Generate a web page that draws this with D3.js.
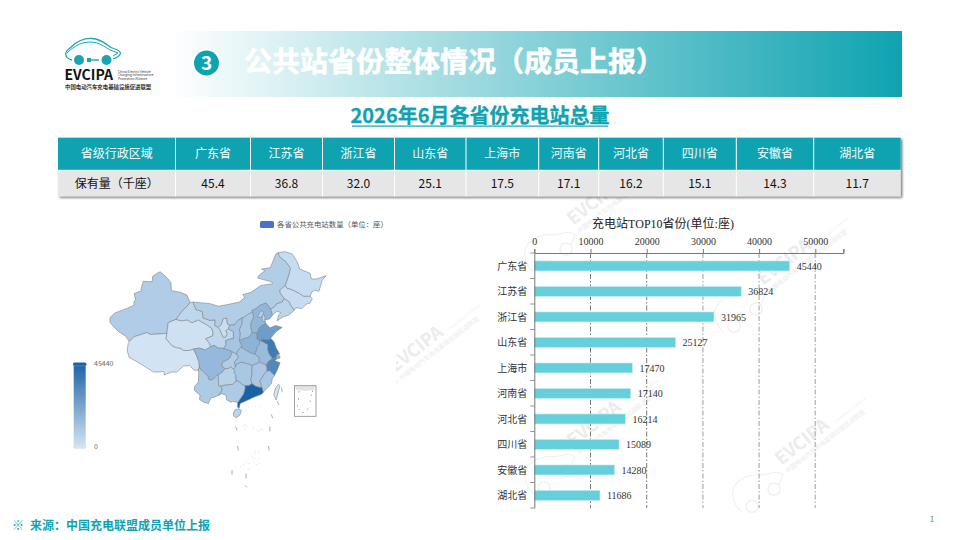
<!DOCTYPE html>
<html>
<head>
<meta charset="utf-8">
<script src="https://cdn.jsdelivr.net/npm/d3@7"></script>
<style>
  html, body { margin: 0; padding: 0; background: #fff; }
  svg { display: block; }
  text { font-family: "Noto Sans CJK SC", "Noto Sans", sans-serif; }
  .serif text, text.serif { font-family: "Liberation Serif", "Noto Sans CJK SC", serif; }
</style>
</head>
<body>
<div id="chart"></div>
<script>
// table at the top, in thousands of stations
const tableNames = ["广东省", "江苏省", "浙江省", "山东省", "上海市", "河南省", "河北省", "四川省", "安徽省", "湖北省"];
const tableValues = ["45.4", "36.8", "32.0", "25.1", "17.5", "17.1", "16.2", "15.1", "14.3", "11.7"];

// bar chart
const topNames = ["广东省", "江苏省", "浙江省", "山东省", "上海市", "河南省", "河北省", "四川省", "安徽省", "湖北省"];
const topValues = [45440, 36824, 31965, 25127, 17470, 17140, 16214, 15089, 14280, 11686];
const axisTicks = [0, 10000, 20000, 30000, 40000, 50000];

// map: names, values (top 10, the others estimated from the shade)
const mapNames = ["新疆", "西藏", "青海", "甘肃", "宁夏", "内蒙古", "黑龙江", "吉林", "辽宁", "河北", "北京", "天津", "山西", "陕西", "山东", "河南", "江苏", "上海", "安徽", "浙江", "湖北", "四川", "重庆", "云南", "贵州", "湖南", "江西", "福建", "广东", "广西", "海南", "台湾"];
const mapValues = [8500, 300, 1500, 5000, 2500, 8000, 3000, 3000, 5500, 16214, 8000, 5000, 10000, 11000, 25127, 17140, 36824, 17470, 14280, 31965, 11686, 15089, 8500, 9000, 7000, 10500, 10000, 10500, 45440, 9000, 6000, 500];

// province outlines, [lon, lat]
const mapShapes = [
  [[73.5,39.5],[75,40.5],[76.8,41],[78.5,41.5],[80.3,42.1],[80.4,43],[80.8,43.2],[80.4,44.6],[82.5,45.2],[82.3,45.5],[83,47.2],[85.5,47.1],[85.7,48.3],[87.3,49.1],[87.9,49.2],[89.7,48],[90.9,46.9],[91,45.2],[93.5,44.9],[95.4,44.3],[96.4,42.7],[93.8,40.6],[92.3,39.1],[90.1,38.4],[89.7,36.1],[85,35.9],[84,36.3],[80.3,35.4],[79,34.4],[78,35.5],[76,36.5],[74.8,37.3],[73.5,38.5]],
  [[78.7,34],[79,34.4],[80.3,35.4],[84,36.3],[85,35.9],[89.7,36.1],[89.5,35],[91.2,33.5],[92.5,33.1],[93.5,33],[94.5,32.5],[96,32.5],[97.3,32.8],[98.2,31.4],[98.9,30],[99,29],[98.7,28.3],[97.5,28.3],[96.2,29.3],[94.5,29.2],[92.5,27.9],[91,27.9],[89,27.3],[88.9,28],[86,27.9],[84,28.8],[81.2,30.1],[79,31],[78.4,32.5]],
  [[92.3,39.1],[90.1,38.4],[89.7,36.1],[89.5,35],[91.2,33.5],[92.5,33.1],[93.5,33],[94.5,32.5],[96,32.5],[97.3,32.8],[99,33],[100.7,32.6],[102.2,33.3],[101.8,34.1],[100.8,35],[102.8,35.6],[102.9,36.3],[102.5,37.2],[101,38],[100,38.4],[98.7,39],[96.9,38.4],[95.5,39],[94,38.8]],
  [[96.4,42.7],[97.2,42.8],[98,41.2],[99.8,40.8],[100.1,39.4],[102,38.9],[103.5,39],[103.4,37.8],[104.3,37.4],[104.9,36.9],[105.4,35.9],[105.9,35.2],[106.5,35.4],[106.9,36.1],[106.5,36.7],[107.3,37.1],[108.7,36.5],[108.7,35],[107.7,34.9],[106.5,34.6],[106.6,33.7],[105.8,32.9],[105,33],[104.3,33],[103.2,33.6],[102.2,33.3],[101.8,34.1],[100.8,35],[102.8,35.6],[102.9,36.3],[102.5,37.2],[101,38],[100,38.4],[98.7,39],[96.9,38.4],[95.5,39],[94,38.8],[92.3,39.1],[93.8,40.6]],
  [[104.3,37.4],[105.2,38],[105.8,39.3],[106.8,39.4],[107,38.1],[107.6,37.9],[107.3,37.1],[106.5,36.7],[106.9,36.1],[106.5,35.4],[105.9,35.2],[105.4,35.9],[104.9,36.9]],
  [[97.2,42.8],[100,42.6],[101.8,42.5],[104.5,41.9],[107.3,42.3],[110.4,42.8],[111.9,43.7],[111.4,44.4],[113.6,44.8],[116.5,46.3],[119.9,46.7],[119.5,47.1],[115.6,47.9],[116,48.5],[117.8,49.5],[116.7,49.8],[119.2,50.1],[120.1,51.7],[120.8,53],[121.5,53.3],[121.8,52.5],[123.6,51.4],[125,50],[124.5,48.5],[123.5,46.3],[122,45.4],[122,44.8],[123.2,43.5],[122.6,42.8],[121,42.4],[120.3,41.7],[119.3,41.3],[118,42.6],[116,42],[115.4,41.5],[114,41],[114.1,40.7],[113.8,40.5],[112.8,40.2],[111.9,39.6],[111.1,39.4],[110,38.9],[108.9,37.9],[107.6,37.9],[107,38.1],[106.8,39.4],[105.8,39.3],[105.2,38],[104.3,37.4],[103.4,37.8],[103.5,39],[102,38.9],[100.1,39.4],[99.8,40.8],[98,41.2]],
  [[121.5,53.3],[123.5,53.5],[125.5,53],[126.9,51.3],[127.6,49.8],[130.6,48.9],[130.9,47.7],[132.5,47.7],[135.1,48.4],[134,47.4],[133.1,45.1],[131.9,45.3],[131,44.9],[130.6,44],[128.7,44],[127.5,44.6],[126,45.2],[125,45.5],[124,45.7],[123.5,46.3],[124.5,48.5],[125,50],[123.6,51.4],[121.8,52.5]],
  [[123.5,46.3],[124,45.7],[125,45.5],[126,45.2],[127.5,44.6],[128.7,44],[130.6,44],[131.2,43.5],[130.5,42.5],[129.8,42.5],[128.1,41.4],[126.5,41.6],[126,41],[125,42.2],[124.5,42.9],[123.2,43.5],[122,44.8],[122,45.4]],
  [[119.3,41.3],[120.3,41.7],[121,42.4],[122.6,42.8],[123.2,43.5],[124.5,42.9],[125,42.2],[126,41],[124.4,40],[123,39.7],[121.2,38.8],[121.5,39.8],[122.2,40.6],[121,40.8],[119.8,40]],
  [[119.8,40],[119.3,41.3],[118,42.6],[116,42],[115.4,41.5],[114,41],[114.1,40.7],[114.5,39.6],[113.7,38.5],[113.6,37.5],[114,36.3],[115.2,36.2],[115.5,36.2],[116.2,37.4],[117.5,38.1],[117.8,38.4],[117.6,39],[119,39.2]],
  [[115.5,39.7],[116,40.3],[116.5,41],[117.4,40.6],[117,39.9],[116.5,39.5],[115.9,39.6]],
  [[117,39.9],[117.4,40.2],[117.8,39.4],[117.6,39],[117.8,38.6],[117,38.7],[116.9,39.3]],
  [[111.1,39.4],[111.9,39.6],[112.8,40.2],[113.8,40.5],[114.1,40.7],[114.5,39.6],[113.7,38.5],[113.6,37.5],[114,36.3],[113.5,35.6],[112.8,35.2],[112,35.1],[110.4,34.6],[110.6,36],[110.4,37],[111.1,38.2]],
  [[111.1,39.4],[110,38.9],[108.9,37.9],[107.6,37.9],[107.3,37.1],[108.7,36.5],[108.7,35],[107.7,34.9],[106.5,34.6],[106.6,33.7],[105.8,32.9],[107.2,32.6],[108.4,32.2],[109.6,31.7],[110,32.5],[110.9,33.2],[111,33.7],[110.4,34.6],[110.6,36],[110.4,37],[111.1,38.2]],
  [[115.5,36.2],[116.2,37.4],[117.5,38.1],[117.8,38.4],[118.9,37.5],[119,37.3],[120.8,37.8],[122.6,37.4],[121,36.6],[120.3,36],[119.3,35.1],[118.7,34.7],[117,34.9],[116.2,34.6],[115.4,34.9],[115.3,35.8]],
  [[110.4,34.6],[112,35.1],[112.8,35.2],[113.5,35.6],[114,36.3],[115.2,36.2],[115.5,36.2],[115.3,35.8],[115.4,34.9],[116.2,34.6],[116.1,33.8],[115.3,33.1],[115.3,32.6],[114.8,31.7],[113.5,32],[111.9,32.7],[110.9,33.2],[111,33.7]],
  [[116.2,34.6],[117,34.9],[118.7,34.7],[119.3,35.1],[120.3,34.3],[120.9,33],[121.9,31.7],[121.2,31.7],[120.9,31.1],[121,30.7],[120.4,30.9],[119.6,30.6],[119.6,31.1],[119.2,31.3],[118.9,31.7],[118.4,32.7],[118.5,33.7],[117.1,34.3]],
  [[121,30.7],[120.9,31.1],[121.2,31.7],[121.9,31.3],[122,30.9]],
  [[114.8,31.7],[115.3,32.6],[115.3,33.1],[116.1,33.8],[116.2,34.6],[117.1,34.3],[118.5,33.7],[118.4,32.7],[118.9,31.7],[119.2,31.3],[119.6,31.1],[119.6,30.6],[118.9,30.3],[118,29.4],[117,29.7],[116.1,30],[116,31]],
  [[118.2,28.1],[118.2,28.7],[118,29.4],[118.9,30.3],[119.6,30.6],[120.4,30.9],[121,30.7],[120.5,30.3],[122,29.9],[121.5,28.9],[121,28],[120.4,27.2],[119.7,27.7],[118.9,28.2]],
  [[110.1,31],[109.6,31.7],[110,32.5],[110.9,33.2],[111.9,32.7],[113.5,32],[114.8,31.7],[116,31],[116.1,30],[115.4,29.7],[114,29.3],[113.1,29.6],[112.5,29.7],[111,30],[109.6,29.6],[109.3,29],[108.9,30]],
  [[97.3,32.8],[99,33],[100.7,32.6],[102.2,33.3],[103.2,33.6],[104.3,33],[105,33],[105.8,32.9],[107.2,32.6],[108.4,32.2],[107.7,30.9],[106.5,30.3],[105.6,30],[105.4,29.3],[106.3,28.6],[105.3,27.7],[104.4,27.4],[103.7,27],[102.9,26.3],[101.8,26.2],[101.4,27],[100.4,27.8],[100.1,28],[99.4,28.4],[99,29],[98.9,30],[98.2,31.4]],
  [[108.4,32.2],[107.7,30.9],[106.5,30.3],[105.6,30],[105.4,29.3],[106.3,28.6],[107.5,28.7],[107.9,29],[108.7,28.5],[109.3,29],[108.9,30],[110.1,31],[109.6,31.7]],
  [[98.7,28.3],[99,29],[99.4,28.4],[100.1,28],[100.4,27.8],[101.4,27],[101.8,26.2],[102.9,26.3],[103.7,27],[104.4,27.4],[104.4,26.3],[104.5,25],[105.2,24.9],[105.5,24.1],[104.6,23],[103,22.5],[102.2,22.4],[101.6,21.2],[100.2,21.5],[99,22.1],[99.2,23],[97.6,24],[97.6,24.8],[98.7,25.8],[98.8,27.5]],
  [[106.3,28.6],[105.3,27.7],[104.4,27.4],[104.4,26.3],[104.5,25],[105.2,24.9],[106.2,25.1],[107.5,25.2],[108.6,25.3],[109.5,26],[109.4,27.2],[108.9,27.8],[109.2,28.1],[108.7,28.5],[107.9,29],[107.5,28.7]],
  [[109.3,29],[109.6,29.6],[111,30],[112.5,29.7],[113.1,29.6],[114,29.3],[114,27.5],[113.7,26.3],[114,25.4],[113,25],[112,25],[111.3,25.2],[110,26],[109.5,26],[109.4,27.2],[108.9,27.8],[109.2,28.1],[108.7,28.5]],
  [[114,29.3],[115.4,29.7],[116.1,30],[117,29.7],[118,29.4],[118.2,28.7],[118.2,28.1],[117.5,27.5],[117,26.9],[116.2,26],[116.5,25.5],[116.8,24.6],[115.9,24.7],[115,24.9],[114,25.4],[113.7,26.3],[114,27.5]],
  [[116.8,24.6],[116.5,25.5],[116.2,26],[117,26.9],[117.5,27.5],[118.2,28.1],[118.9,28.2],[119.7,27.7],[120.4,27.2],[119.7,26.4],[119.6,25.5],[118.9,24.9],[118.2,24.4],[117.2,23.6]],
  [[112,25],[113,25],[114,25.4],[115,24.9],[115.9,24.7],[116.8,24.6],[117.2,23.6],[116.7,23.2],[115,22.7],[114,22.4],[113.5,22.2],[112,21.7],[110.6,21.2],[110.4,20.3],[109.9,20.4],[109.9,21.4],[110.7,22.3],[111.6,23.3],[112,24.4]],
  [[105.2,24.9],[106.2,25.1],[107.5,25.2],[108.6,25.3],[109.5,26],[110,26],[111.3,25.2],[112,25],[112,24.4],[111.6,23.3],[110.7,22.3],[109.9,21.4],[109.6,21.5],[108.5,21.7],[108,21.5],[106.7,22],[106.6,23],[105.3,23.3],[104.6,23],[105.5,24.1]],
  [[108.7,19.2],[109.2,19.9],[110.3,20.1],[111,19.7],[110.5,18.7],[109.5,18.2],[108.7,18.6]],
  [[121.5,25.3],[122,25],[121.6,24],[120.9,22],[120.2,23],[120.7,24.5]]
];

// nine dash line, [lon, lat, lon, lat]
const dashLine = [[122.6,23.6,122.4,24.6],[121.7,20.9,121.1,21.7],[119.9,18.1,119.5,18.9],[119.1,15.3,119.1,16.3],[118.9,11.2,118.7,12.2],[112.5,3.4,112.0,3.8],[112.3,5.3,112.3,6.3],[108.3,6.1,108.3,7.1],[110.1,11.2,109.9,12.2],[109.3,16.3,109.8,15.5]];
// small islands, [lon, lat]
const islands = [[111.5,16.5],[112,16.8],[112.5,16.4],[111.9,15.8],[114.5,16],[115.5,15.5],[116,15.3],[116.4,15.8],[117,15.6],[113,20.5],[115,20.6],[116.5,20.7],[114,10],[114.5,9.5],[115,10.5],[115.5,9],[116,9.5],[114.3,8.6],[115.2,8.2],[116.2,8.4],[113.2,8.5],[112.5,8.6],[114.8,11],[115.8,10.8],[111.5,8.2],[110.8,7.8],[113.6,7.5],[112.9,7.2]];

const wmCenters = [[798,445],[590,427],[780,265],[590,205],[412,352]];

const width = 960, height = 540;
const teal = "#0fa3b1";

const svg = d3.select("#chart").append("svg")
  .attr("width", width)
  .attr("height", height);

const defs = svg.append("defs");
const banner = defs.append("linearGradient").attr("id", "banner");
banner.append("stop").attr("offset", "0").attr("stop-color", "#fff");
banner.append("stop").attr("offset", "1").attr("stop-color", teal);
const shadow = defs.append("filter").attr("id", "shadow")
  .attr("x", "-2%").attr("y", "-10%").attr("width", "104%").attr("height", "125%");
shadow.append("feDropShadow").attr("dx", 1.5).attr("dy", 1.5).attr("stdDeviation", 1.2)
  .attr("flood-color", "#000").attr("flood-opacity", 0.55);

const mapColor = d3.scaleLinear()
  .domain([0, d3.max(topValues)])
  .range(["#d3e5f5", "#1a62a6"]);

const vm = defs.append("linearGradient").attr("id", "vm")
  .attr("x1", 0).attr("x2", 0).attr("y1", 1).attr("y2", 0);
vm.append("stop").attr("offset", "0").attr("stop-color", mapColor(0));
vm.append("stop").attr("offset", "1").attr("stop-color", mapColor(45440));

// watermarks, behind everything
const drawMark = (g) => {
  g.append("path")
    .attr("d", "M-48,18 C-50,2 -42,-8 -30,-8 C-20,-8 -14,-4 -8,2 L4,8 L8,14 L-2,20")
    .attr("fill", "none").attr("stroke", "#f1f1f1").attr("stroke-width", 1.2);
  g.append("circle").attr("cx", -36).attr("cy", 20).attr("r", 6).attr("fill", "none").attr("stroke", "#f1f1f1").attr("stroke-width", 1.5);
  g.append("circle").attr("cx", -8).attr("cy", 20).attr("r", 6).attr("fill", "none").attr("stroke", "#f1f1f1").attr("stroke-width", 1.5);
  g.append("text").attr("x", 12).attr("y", 6).attr("font-size", 18).attr("font-weight", 700)
    .attr("fill", "#ececec").text("EVCIPA");
  g.append("text").attr("x", 12).attr("y", 16).attr("font-size", 6.2).attr("font-weight", 700)
    .attr("fill", "#f1f1f1").text("中国电动汽车充电基础设施促进联盟");
  g.append("text").attr("x", 80).attr("y", 6).attr("font-size", 4)
    .attr("fill", "#f1f1f1").text("China Electric Vehicle");
};
svg.append("g").selectAll("g")
  .data(wmCenters)
  .join("g")
  .attr("transform", d => `translate(${d[0]},${d[1]}) rotate(-38) translate(-38,0)`)
  .each(function() { drawMark(d3.select(this)); });
// map panel has a white background
svg.append("rect").attr("x", 60).attr("y", 205).attr("width", 336).attr("height", 300).attr("fill", "#fff");

// banner
svg.append("rect").attr("x", 170).attr("y", 31).attr("width", 732).attr("height", 66).attr("fill", "url(#banner)");
svg.append("circle").attr("cx", 206.5).attr("cy", 63).attr("r", 14.5).attr("fill", "#fff");
svg.append("circle").attr("cx", 206.5).attr("cy", 63).attr("r", 12.5).attr("fill", teal);
svg.append("text").attr("x", 206.5).attr("y", 70).attr("text-anchor", "middle")
  .attr("font-size", 19).attr("font-weight", 700).attr("fill", "#fff").text("3");
svg.append("text").attr("x", 244).attr("y", 72)
  .attr("font-size", 28).attr("font-weight", 700).attr("fill", "#fff")
  .attr("stroke", "#fff").attr("stroke-width", 0.5)
  .text("公共站省份整体情况（成员上报）");

// logo
const logo = svg.append("g").attr("fill", "none").attr("stroke", "#1aa5b5");
logo.append("path").attr("stroke-width", 1.3)
  .attr("d", "M72,60 C64,58 64,52 70,48 C76,42 82,38 92,38.5 C101,39 106,44 111,47.5 C116,49 120,51 120.5,53 C120,56 116,58 113,59");
logo.append("path").attr("stroke-width", 1)
  .attr("d", "M67,53 C72,48 80,42 90,42 C99,42 105,47 110,50 L118,53 L113,56");
logo.append("circle").attr("cx", 79).attr("cy", 60).attr("r", 5).attr("fill", "#1aa5b5").attr("stroke", "none");
logo.append("circle").attr("cx", 106.5).attr("cy", 60).attr("r", 5).attr("fill", "#1aa5b5").attr("stroke", "none");
logo.append("path").attr("stroke", "#1aa5b5").attr("stroke-width", 1.4).attr("d", "M88,60 H99");
logo.append("rect").attr("x", 87).attr("y", 58).attr("width", 4).attr("height", 4).attr("fill", "#1aa5b5").attr("stroke", "none");
svg.append("text").attr("x", 64.5).attr("y", 79.5).attr("font-size", 14).attr("font-weight", 700).attr("fill", "#111").text("EVCIPA");
["China Electric Vehicle", "Charging Infrastructure", "Promotion Alliance"].forEach((t, i) => {
  svg.append("text").attr("x", 118).attr("y", 72.5 + i * 3.6).attr("font-size", 3.3).attr("fill", "#333").text(t);
});
svg.append("text").attr("x", 65).attr("y", 88.5).attr("font-size", 5.4).attr("font-weight", 700).attr("fill", "#333")
  .text("中国电动汽车充电基础设施促进联盟");

// subtitle
svg.append("text").attr("x", 480).attr("y", 122.5).attr("text-anchor", "middle")
  .attr("font-size", 20).attr("font-weight", 700).attr("fill", teal)
  .attr("stroke", teal).attr("stroke-width", 0.3)
  .text("2026年6月各省份充电站总量");
svg.append("rect").attr("x", 352).attr("y", 125.5).attr("width", 256).attr("height", 1.2).attr("fill", teal);

// table
const colEdges = [58, 175.5, 250.5, 322.5, 394.5, 466, 538.7, 598.7, 663.3, 736.3, 813.7, 900.7];
const rowEdges = [137.7, 170.3, 196.3];
const table = svg.append("g");
table.append("rect").attr("x", colEdges[0]).attr("y", rowEdges[0])
  .attr("width", colEdges[11] - colEdges[0]).attr("height", rowEdges[2] - rowEdges[0])
  .attr("fill", "#e6e6e6").attr("filter", "url(#shadow)");
const headRow = ["省级行政区域"].concat(tableNames);
const valueRow = ["保有量（千座）"].concat(tableValues);
headRow.forEach((t, i) => {
  table.append("rect").attr("x", colEdges[i]).attr("y", rowEdges[0])
    .attr("width", colEdges[i + 1] - colEdges[i]).attr("height", rowEdges[1] - rowEdges[0])
    .attr("fill", teal);
  table.append("text").attr("x", (colEdges[i] + colEdges[i + 1]) / 2).attr("y", 158)
    .attr("text-anchor", "middle").attr("font-size", 12).attr("fill", "#f2fbfc").text(t);
  table.append("text").attr("x", (colEdges[i] + colEdges[i + 1]) / 2).attr("y", 188)
    .attr("text-anchor", "middle").attr("font-size", 12).attr("fill", "#111").text(valueRow[i]);
});
colEdges.slice(1, -1).forEach(x => {
  table.append("line").attr("x1", x).attr("x2", x).attr("y1", rowEdges[0]).attr("y2", rowEdges[2])
    .attr("stroke", "#fff").attr("stroke-width", 1);
});
table.append("line").attr("x1", colEdges[0]).attr("x2", colEdges[11]).attr("y1", rowEdges[1]).attr("y2", rowEdges[1])
  .attr("stroke", "#fff").attr("stroke-width", 1);

// map: latitude keeps its own scale, echarts squeezes longitude by 0.75
const lonScale = d3.scaleLinear().domain([73.5, 135.1]).range([110, 326]);
const latScale = d3.scaleLinear().domain([53.5, 18.2]).range([251.7, 417.7]);
const shapeLine = d3.line().x(d => lonScale(d[0])).y(d => latScale(d[1])).curve(d3.curveLinearClosed);

const map = svg.append("g");
map.selectAll("path.province")
  .data(mapNames)
  .join("path")
  .attr("class", "province")
  .attr("d", (d, i) => shapeLine(mapShapes[i]))
  .attr("fill", (d, i) => mapColor(mapValues[i]))
  .attr("stroke", "#80858a")
  .attr("stroke-width", 0.6)
  .attr("stroke-linejoin", "round");
map.selectAll("line.dash")
  .data(dashLine)
  .join("line")
  .attr("class", "dash")
  .attr("x1", d => lonScale(d[0])).attr("y1", d => latScale(d[1]))
  .attr("x2", d => lonScale(d[2])).attr("y2", d => latScale(d[3]))
  .attr("stroke", "#8a8a8a").attr("stroke-width", 0.7);
map.selectAll("circle.island")
  .data(islands)
  .join("circle")
  .attr("class", "island")
  .attr("cx", d => lonScale(d[0])).attr("cy", d => latScale(d[1]))
  .attr("r", 0.45).attr("fill", "#bbb");

// south china sea inset
const inset = svg.append("g");
inset.append("path").attr("d", "M295,386 H315.5 L314,390 L305,391 L296,390 Z").attr("fill", "#e4e4e4");
inset.append("rect").attr("x", 294.5).attr("y", 385.7).attr("width", 21.5).attr("height", 30.6)
  .attr("fill", "none").attr("stroke", "#8a8a8a").attr("stroke-width", 0.8);
inset.append("path").attr("fill", "none").attr("stroke", "#777").attr("stroke-width", 0.6)
  .attr("d", "M299,391 v1.6 M298.5,398 v1.6 M297.5,405 v1.6 M302,412.5 h1.6 M307,410 l1,-1.5 M310,402 l0.5,-1.5 M311,396 l0.5,-1.5 M312.5,390.5 v1.6 M299,409 l0.5,1");

// legend
svg.append("rect").attr("x", 260).attr("y", 221).attr("width", 14).attr("height", 7).attr("rx", 1.5).attr("fill", "#4f6fc5");
svg.append("text").attr("x", 277).attr("y", 227.3).attr("font-size", 7.4).attr("fill", "#555")
  .text("各省公共充电站数量（单位：座）");

// visual map
svg.append("rect").attr("x", 73.7).attr("y", 363).attr("width", 12).attr("height", 85).attr("fill", "url(#vm)");
svg.append("rect").attr("x", 73).attr("y", 362.5).attr("width", 13.5).attr("height", 3.4).attr("rx", 1.7).attr("fill", "#1a62a6").attr("stroke", "#8fb3d9").attr("stroke-width", 0.4);
svg.append("rect").attr("x", 73).attr("y", 445.3).attr("width", 13.5).attr("height", 3.4).attr("rx", 1.7).attr("fill", mapColor(0));
svg.append("text").attr("x", 94).attr("y", 366).attr("font-size", 7).attr("fill", "#666").text("45440");
svg.append("text").attr("x", 94).attr("y", 449).attr("font-size", 7).attr("fill", "#666").text("0");

// bar chart
const barLeft = 534.3, barRight = 843.4, barTop = 253, barBottom = 508;
const x = d3.scaleLinear().domain([0, 55000]).range([barLeft, barRight]);
const yBand = d3.scaleBand().domain(topNames).range([barTop, barBottom]);

svg.append("text").attr("class", "serif").attr("x", 663).attr("y", 228)
  .attr("text-anchor", "middle").attr("font-size", 12).attr("fill", "#222")
  .text("充电站TOP10省份(单位:座)");

const bars = svg.append("g").attr("class", "serif");

// grid lines: the first two come out thin and dark, the rest wide and pale
bars.selectAll("line.grid")
  .data(axisTicks.slice(1))
  .join("line")
  .attr("class", "grid")
  .attr("x1", d => x(d)).attr("x2", d => x(d))
  .attr("y1", barTop).attr("y2", barBottom)
  .attr("stroke", (d, i) => i < 2 ? "#555" : "#bdbdbd")
  .attr("stroke-width", (d, i) => i < 2 ? 0.8 : 1.5)
  .attr("stroke-dasharray", "5,2,1.5,2");

bars.selectAll("rect.bar")
  .data(topNames)
  .join("rect")
  .attr("class", "bar")
  .attr("x", barLeft)
  .attr("y", d => yBand(d) + yBand.bandwidth() / 2 - 4.8)
  .attr("width", (d, i) => x(topValues[i]) - barLeft)
  .attr("height", 10)
  .attr("fill", "#66cfdc")
  .attr("stroke", "#c5eef2")
  .attr("stroke-width", 0.6);

bars.selectAll("text.value")
  .data(topNames)
  .join("text")
  .attr("class", "value")
  .attr("x", (d, i) => x(topValues[i]) + 7)
  .attr("y", d => yBand(d) + yBand.bandwidth() / 2 + 4)
  .attr("font-size", 10)
  .attr("fill", "#333")
  .text((d, i) => topValues[i]);

const xAxis = bars.append("g")
  .attr("transform", `translate(0,${barTop})`)
  .call(d3.axisTop(x).tickValues(axisTicks.concat(55000)).tickFormat(d => d === 55000 ? "" : d).tickSize(4).tickPadding(4));
const yAxis = bars.append("g")
  .attr("transform", `translate(${barLeft},0)`)
  .call(d3.axisLeft(yBand).tickSize(0).tickPadding(7));

// band boundary ticks on the y axis
bars.selectAll("line.yt")
  .data(d3.range(topNames.length + 1))
  .join("line")
  .attr("class", "yt")
  .attr("x1", barLeft - 4).attr("x2", barLeft)
  .attr("y1", d => barTop + d * yBand.step()).attr("y2", d => barTop + d * yBand.step())
  .attr("stroke", "#777").attr("stroke-width", 0.8);

[xAxis, yAxis].forEach(a => {
  a.selectAll("path.domain").attr("stroke", "#777").attr("stroke-width", 1);
  a.selectAll("line").attr("stroke", "#777");
  a.selectAll("text").attr("fill", "#333").attr("font-size", 10)
    .style("font-family", '"Liberation Serif", "Noto Sans CJK SC", serif');
});
yAxis.selectAll("text").attr("dy", "0.42em");

// footer
svg.append("text").attr("x", 12).attr("y", 529.5).attr("font-size", 12).attr("font-weight", 700).attr("fill", teal).text("※");
svg.append("text").attr("x", 30).attr("y", 529.5).attr("font-size", 12).attr("font-weight", 700).attr("fill", teal)
  .text("来源：中国充电联盟成员单位上报");
svg.append("text").attr("x", 932).attr("y", 522).attr("text-anchor", "middle").attr("font-size", 8).attr("fill", "#777").text("1");
</script>
</body>
</html>
